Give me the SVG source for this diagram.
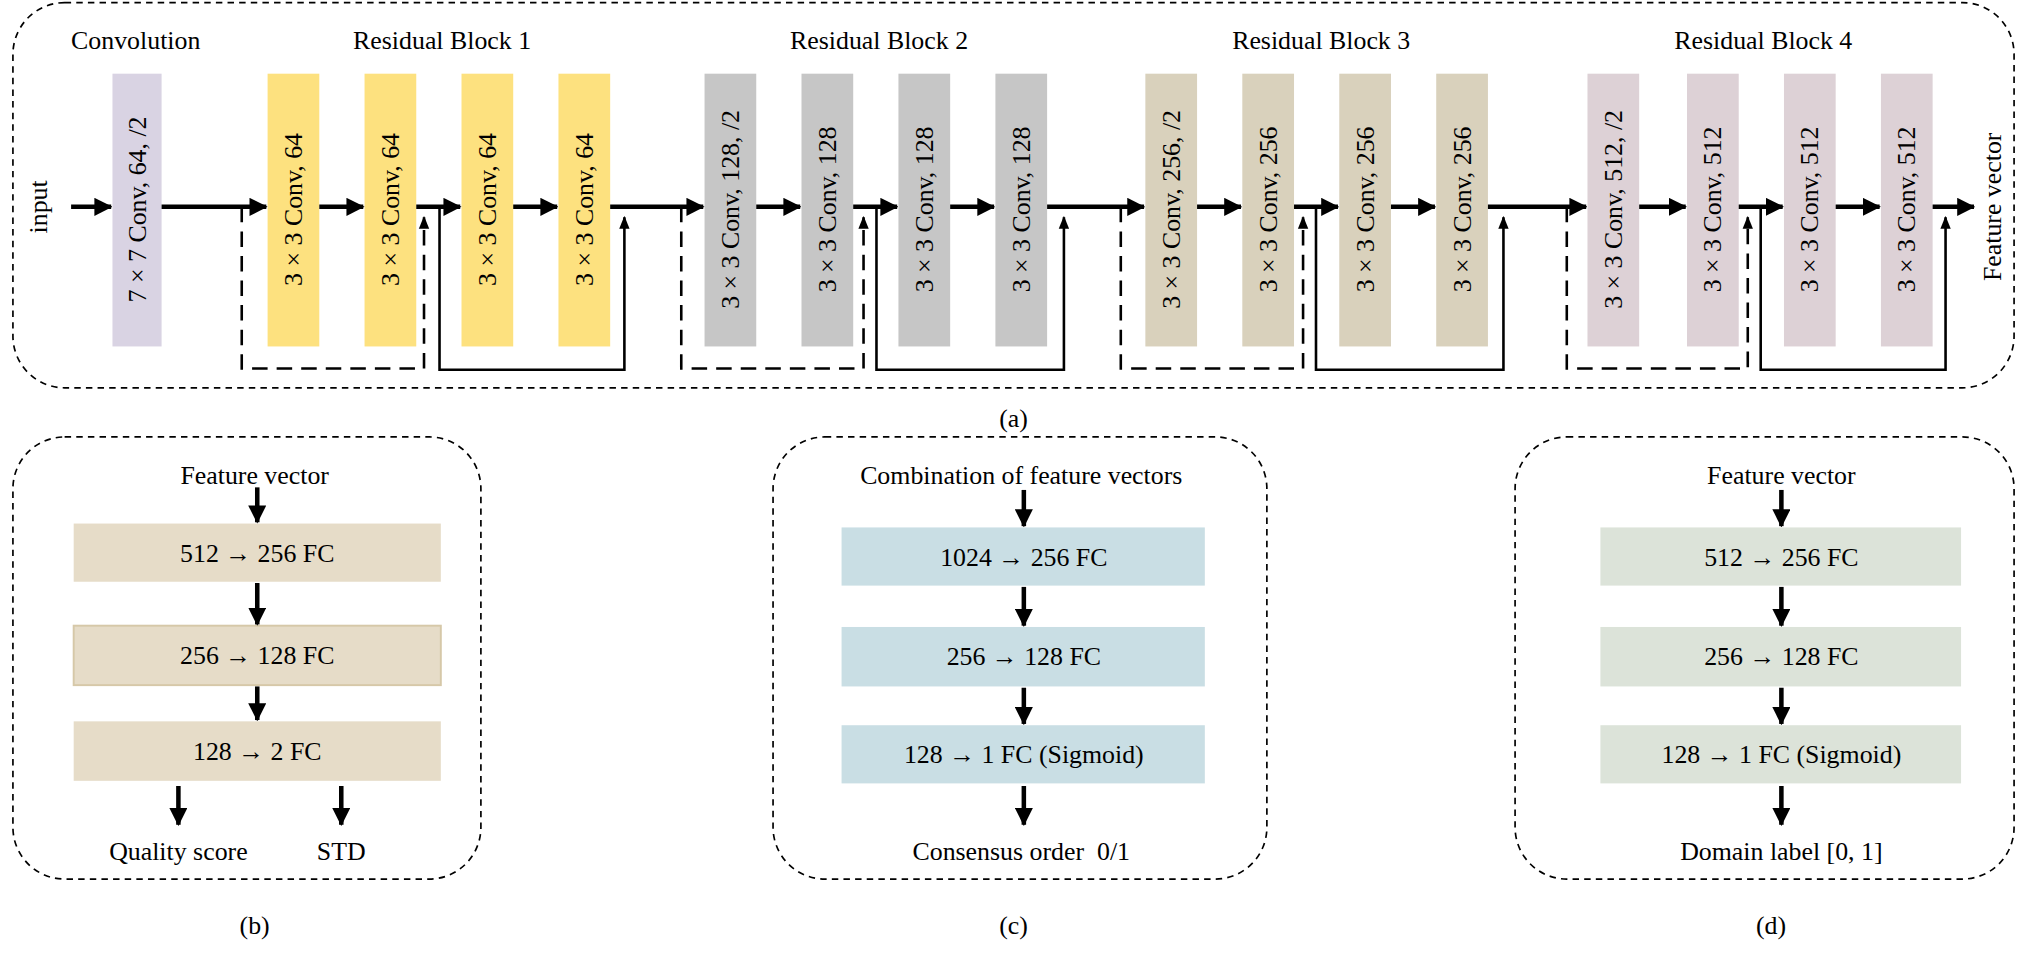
<svg xmlns="http://www.w3.org/2000/svg" width="2027" height="956" viewBox="0 0 2027 956">
<style>
text{font-family:"Liberation Serif","Times New Roman",serif;font-size:20px;fill:#000;text-anchor:middle;dominant-baseline:central}
.panel{fill:none;stroke:#000;stroke-width:1.3;stroke-dasharray:5 4}
.thick{stroke:#000;stroke-width:3.5;fill:none}
.thin{stroke:#000;stroke-width:2;fill:none}
.dash{stroke:#000;stroke-width:2;fill:none;stroke-dasharray:12 7}
.c0{fill:#D9D3E3}.c1{fill:#FDE17F}.c2{fill:#C6C6C6}.c3{fill:#D9D1BC}.c4{fill:#DDD1D6}
.cb{fill:#E6DCC8}.cc{fill:#C9DEE4}.cd{fill:#DCE3D9}
</style>
<defs>
<marker id="ah" markerUnits="userSpaceOnUse" markerWidth="14" markerHeight="14" viewBox="0 0 14 14" refX="13" refY="7" orient="auto"><path d="M0,0 L14,7 L0,14 z"/></marker>
<marker id="as" markerUnits="userSpaceOnUse" markerWidth="10" markerHeight="10" viewBox="0 0 10 10" refX="9" refY="5" orient="auto"><path d="M0,1 L10,5 L0,9 z"/></marker>
</defs>
<rect width="2027" height="956" fill="#fff"/>
<g transform="scale(1.29273)">
<rect class="panel" x="10" y="2" width="1548" height="298" rx="40"/>
<text x="784" y="324">(a)</text>
<text x="105" y="31">Convolution</text>
<text x="342" y="31">Residual Block 1</text>
<text x="680" y="31">Residual Block 2</text>
<text x="1022" y="31">Residual Block 3</text>
<text x="1364" y="31">Residual Block 4</text>
<text transform="translate(30,160) rotate(-90)">input</text>
<text transform="translate(1541,160) rotate(-90)">Feature vector</text>
<g id="conv"><rect class="c0" x="87" y="57" width="38" height="211"/><text transform="translate(106,162) rotate(-90)">7 × 7 Conv, 64, /2</text></g>
<g id="b1n1"><rect class="c1" x="207" y="57" width="40" height="211"/><text transform="translate(227,162) rotate(-90)">3 × 3 Conv, 64</text></g>
<g id="b1n2"><rect class="c1" x="282" y="57" width="40" height="211"/><text transform="translate(302,162) rotate(-90)">3 × 3 Conv, 64</text></g>
<g id="b1n3"><rect class="c1" x="357" y="57" width="40" height="211"/><text transform="translate(377,162) rotate(-90)">3 × 3 Conv, 64</text></g>
<g id="b1n4"><rect class="c1" x="432" y="57" width="40" height="211"/><text transform="translate(452,162) rotate(-90)">3 × 3 Conv, 64</text></g>
<g id="b2n1"><rect class="c2" x="545" y="57" width="40" height="211"/><text transform="translate(565,162) rotate(-90)">3 × 3 Conv, 128, /2</text></g>
<g id="b2n2"><rect class="c2" x="620" y="57" width="40" height="211"/><text transform="translate(640,162) rotate(-90)">3 × 3 Conv, 128</text></g>
<g id="b2n3"><rect class="c2" x="695" y="57" width="40" height="211"/><text transform="translate(715,162) rotate(-90)">3 × 3 Conv, 128</text></g>
<g id="b2n4"><rect class="c2" x="770" y="57" width="40" height="211"/><text transform="translate(790,162) rotate(-90)">3 × 3 Conv, 128</text></g>
<g id="b3n1"><rect class="c3" x="886" y="57" width="40" height="211"/><text transform="translate(906,162) rotate(-90)">3 × 3 Conv, 256, /2</text></g>
<g id="b3n2"><rect class="c3" x="961" y="57" width="40" height="211"/><text transform="translate(981,162) rotate(-90)">3 × 3 Conv, 256</text></g>
<g id="b3n3"><rect class="c3" x="1036" y="57" width="40" height="211"/><text transform="translate(1056,162) rotate(-90)">3 × 3 Conv, 256</text></g>
<g id="b3n4"><rect class="c3" x="1111" y="57" width="40" height="211"/><text transform="translate(1131,162) rotate(-90)">3 × 3 Conv, 256</text></g>
<g id="b4n1"><rect class="c4" x="1228" y="57" width="40" height="211"/><text transform="translate(1248,162) rotate(-90)">3 × 3 Conv, 512, /2</text></g>
<g id="b4n2"><rect class="c4" x="1305" y="57" width="40" height="211"/><text transform="translate(1325,162) rotate(-90)">3 × 3 Conv, 512</text></g>
<g id="b4n3"><rect class="c4" x="1380" y="57" width="40" height="211"/><text transform="translate(1400,162) rotate(-90)">3 × 3 Conv, 512</text></g>
<g id="b4n4"><rect class="c4" x="1455" y="57" width="40" height="211"/><text transform="translate(1475,162) rotate(-90)">3 × 3 Conv, 512</text></g>

<rect class="panel" x="10" y="338" width="362" height="342" rx="40"/>
<text x="197" y="368">Feature vector</text>
<g id="bn1"><rect class="cb" x="57" y="405" width="284" height="45"/><text x="199" y="428">512 → 256 FC</text></g>
<g id="bn2"><rect class="cb" x="57" y="484" width="284" height="46" stroke="#D6C8A8" stroke-width="1.5"/><text x="199" y="507">256 → 128 FC</text></g>
<g id="bn3"><rect class="cb" x="57" y="558" width="284" height="46"/><text x="199" y="581">128 → 2 FC</text></g>
<text x="138" y="659">Quality score</text>
<text x="264" y="659">STD</text>
<text x="197" y="716">(b)</text>

<rect class="panel" x="598" y="338" width="382" height="342" rx="40"/>
<text x="790" y="368">Combination of feature vectors</text>
<g id="cn1"><rect class="cc" x="651" y="408" width="281" height="45"/><text x="792" y="431">1024 → 256 FC</text></g>
<g id="cn2"><rect class="cc" x="651" y="485" width="281" height="46"/><text x="792" y="508">256 → 128 FC</text></g>
<g id="cn3"><rect class="cc" x="651" y="561" width="281" height="45"/><text x="792" y="584">128 → 1 FC (Sigmoid)</text></g>
<text x="790" y="659" xml:space="preserve">Consensus order  0/1</text>
<text x="784" y="716">(c)</text>

<rect class="panel" x="1172" y="338" width="386" height="342" rx="40"/>
<text x="1378" y="368">Feature vector</text>
<g id="dn1"><rect class="cd" x="1238" y="408" width="279" height="45"/><text x="1378" y="431">512 → 256 FC</text></g>
<g id="dn2"><rect class="cd" x="1238" y="485" width="279" height="46"/><text x="1378" y="508">256 → 128 FC</text></g>
<g id="dn3"><rect class="cd" x="1238" y="561" width="279" height="45"/><text x="1378" y="584">128 → 1 FC (Sigmoid)</text></g>
<text x="1378" y="659">Domain label [0, 1]</text>
<text x="1370" y="716">(d)</text>

<g id="connectors">
<g class="thick" marker-end="url(#ah)">
<line x1="55" y1="160" x2="86" y2="160"/>
<line x1="125" y1="160" x2="206" y2="160"/>
<line x1="247" y1="160" x2="281" y2="160"/>
<line x1="322" y1="160" x2="356" y2="160"/>
<line x1="397" y1="160" x2="431" y2="160"/>
<line x1="472" y1="160" x2="544" y2="160"/>
<line x1="585" y1="160" x2="619" y2="160"/>
<line x1="660" y1="160" x2="694" y2="160"/>
<line x1="735" y1="160" x2="769" y2="160"/>
<line x1="810" y1="160" x2="885" y2="160"/>
<line x1="926" y1="160" x2="960" y2="160"/>
<line x1="1001" y1="160" x2="1035" y2="160"/>
<line x1="1076" y1="160" x2="1110" y2="160"/>
<line x1="1151" y1="160" x2="1227" y2="160"/>
<line x1="1268" y1="160" x2="1304" y2="160"/>
<line x1="1345" y1="160" x2="1379" y2="160"/>
<line x1="1420" y1="160" x2="1454" y2="160"/>
<line x1="1495" y1="160" x2="1527" y2="160"/>
<line x1="199" y1="377" x2="199" y2="404"/>
<line x1="199" y1="451" x2="199" y2="483"/>
<line x1="199" y1="531" x2="199" y2="557"/>
<line x1="138" y1="608" x2="138" y2="638"/>
<line x1="264" y1="608" x2="264" y2="638"/>
<line x1="792" y1="379" x2="792" y2="407"/>
<line x1="792" y1="454" x2="792" y2="484"/>
<line x1="792" y1="532" x2="792" y2="560"/>
<line x1="792" y1="608" x2="792" y2="638"/>
<line x1="1378" y1="379" x2="1378" y2="407"/>
<line x1="1378" y1="454" x2="1378" y2="484"/>
<line x1="1378" y1="532" x2="1378" y2="560"/>
<line x1="1378" y1="608" x2="1378" y2="638"/>
</g>
<g marker-end="url(#as)">
<path class="dash" d="M187,160 V285 H328 V168"/>
<path class="thin" d="M340,160 V286 H483 V168"/>
<path class="dash" d="M527,160 V285 H668 V168"/>
<path class="thin" d="M678,160 V286 H823 V168"/>
<path class="dash" d="M867,160 V285 H1008 V168"/>
<path class="thin" d="M1018,160 V286 H1163 V168"/>
<path class="dash" d="M1212,160 V285 H1352 V168"/>
<path class="thin" d="M1362,160 V286 H1505 V168"/>
</g>
</g>
</g>
</svg>
